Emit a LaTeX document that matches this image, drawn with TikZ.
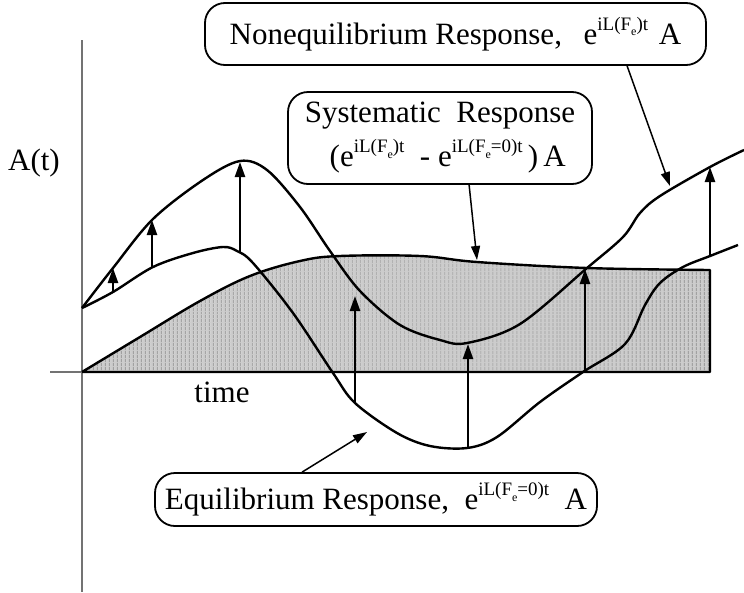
\documentclass[tikz,border=0pt]{standalone}
\usepackage{fontspec}
\setmainfont{Liberation Serif}
\usetikzlibrary{arrows.meta,patterns.meta,calc}
\newcommand{\supx}[1]{\raisebox{0.46em}{\fontsize{19}{19}\selectfont #1}}
\newcommand{\subx}[1]{\raisebox{-0.3em}{\fontsize{12}{12}\selectfont #1}}
\begin{document}
\begin{tikzpicture}[x=1pt,y=-1pt,
  curve/.style={line width=2.4pt, line join=round},
  uparrow/.style={line width=2.4pt, -{Triangle[length=15pt,width=10pt]}},
  callout/.style={line width=1.5pt, -{Triangle[length=14pt,width=9pt]}},
  labelbox/.style={draw, line width=1.8pt, rounded corners=20pt, inner sep=0pt, fill=white, font=\fontsize{31}{44}\selectfont},
  plain/.style={font=\fontsize{31}{37}\selectfont, inner sep=0pt},
  axisline/.style={line width=2.4pt, draw=black!55}]
\useasboundingbox (0,0) rectangle (744,592);
% axes
\draw[axisline] (82,40) -- (82,592);
\draw[axisline] (50,372) -- (82,372);
% shaded systematic region
\path[fill=black!20, postaction={pattern={Lines[angle=90,distance=4pt,line width=1.1pt]}, pattern color=black!38}]
  plot[smooth, tension=0.6] coordinates {(82,372) (140,337) (200,301) (250,276) (300,261) (340,256) (420,256) (477,262) (587,268) (710,270)} -- (710,372) -- cycle;
\draw[curve] plot[smooth, tension=0.6] coordinates {(82,372) (140,337) (200,301) (250,276) (300,261) (340,256) (420,256) (477,262) (587,268) (710,270)} -- (710,372) -- (82,372);
% nonequilibrium curve
\draw[curve] plot[smooth, tension=0.55] coordinates {(82,308) (113,268) (153,219) (203,180) (240,161) (267,170) (300,207) (330,251) (360,291) (400,325) (440,340) (467,343) (520,324) (587,268) (623,237) (640,213) (660,196) (710,167) (744,150)};
% equilibrium curve
\draw[curve] plot[smooth, tension=0.55] coordinates {(82,308) (113,292) (153,267) (193,253) (223,247) (237,251) (253,263) (293,313) (333,373) (355,403) (397,433) (430,446) (467,448) (497,437) (540,402) (583,372) (625,344) (645,305) (660,283) (683,267) (710,256) (738,245)};
% difference arrows
\coordinate (a1) at (113,292); \coordinate (b1) at (113,268);
\coordinate (a2) at (152,267); \coordinate (b2) at (152,220);
\coordinate (a3) at (240,253); \coordinate (b3) at (240,162);
\coordinate (a4) at (355,403); \coordinate (b4) at (355,296);
\coordinate (a5) at (468,448); \coordinate (b5) at (468,344);
\coordinate (a6) at (585,371); \coordinate (b6) at (585,269);
\coordinate (a7) at (710,256); \coordinate (b7) at (710,167);
\foreach \i in {1,...,7} \draw[uparrow] (a\i) -- (b\i);
% labels
\node[labelbox, minimum width=501pt, minimum height=62pt] (neq) at (455.5,34) {Nonequilibrium Response,\hspace{0.7em}e\supx{iL(F\subx{e})t}\hspace{0.35em}A};
\node[labelbox, minimum width=304pt, minimum height=92pt, align=center] (sys) at (440,138) {Systematic\ \ Response\\ \ \ (e\supx{iL(F\subx{e})t}\ \ - e\supx{iL(F\subx{e}=0)t}\,)\,A};
\node[labelbox, minimum width=442pt, minimum height=53pt] (eq) at (376,499.5) {Equilibrium Response,\ \ e\supx{iL(F\subx{e}=0)t}\ \ A};
\node[plain] (at) at (34,163) {A(t)};
\node[plain] (time) at (222,392) {time};
% callouts
\coordinate (neqhit) at (670,186);
\coordinate (syshit) at (477,260);
\coordinate (eqhit) at (367,432);
\draw[callout] ([xshift=423pt]neq.south west) -- (neqhit);
\draw[callout] ([xshift=182pt]sys.south west) -- (syshit);
\draw[callout] ([xshift=148pt]eq.north west) -- (eqhit);
\end{tikzpicture}
\end{document}
